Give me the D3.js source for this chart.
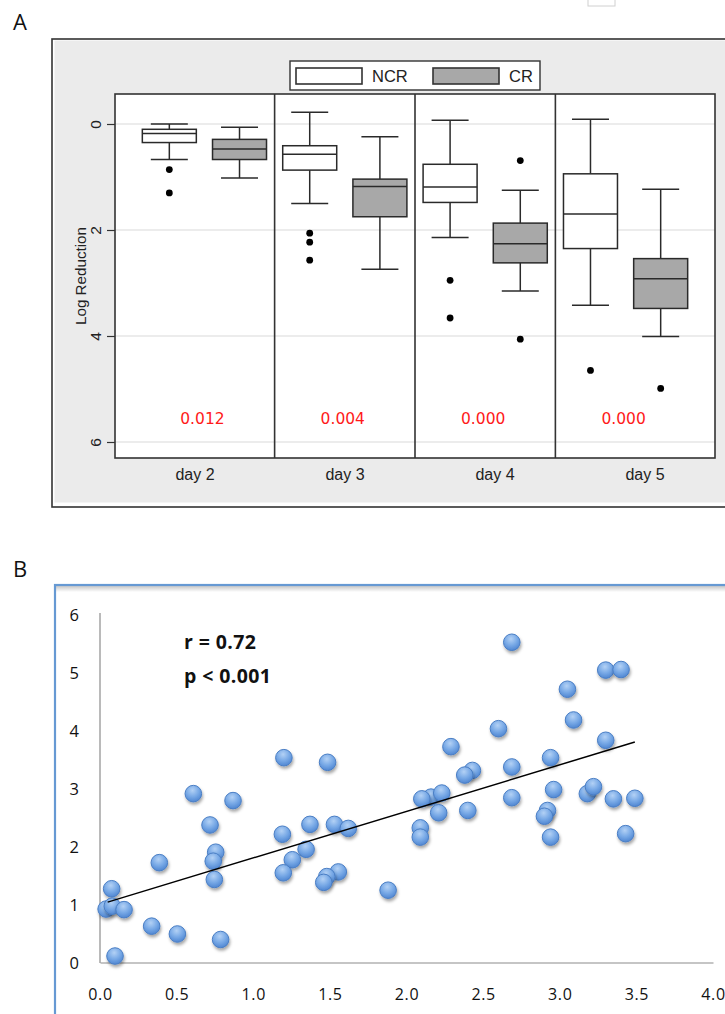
<!DOCTYPE html>
<html><head><meta charset="utf-8">
<script src="https://cdn.jsdelivr.net/npm/d3@7"></script>
<style>
html,body{margin:0;padding:0;background:#fff;}
svg{display:block;}
</style></head>
<body>
<svg id="chart" width="725" height="1014"></svg>
<script>
// ---------- Panel A data ----------
const days = ["day 2", "day 3", "day 4", "day 5"];
const groups = ["NCR", "CR"];
const ncrWhiskerTop    = [0.00, -0.22, -0.07, -0.09];
const ncrQ1            = [0.10, 0.41, 0.76, 0.94];
const ncrMedian        = [0.18, 0.57, 1.19, 1.70];
const ncrQ3            = [0.35, 0.87, 1.48, 2.35];
const ncrWhiskerBottom = [0.67, 1.50, 2.14, 3.42];
const ncrOutliers      = [[0.86, 1.30], [2.06, 2.23, 2.57], [2.95, 3.66], [4.65]];
const crWhiskerTop     = [0.06, 0.24, 1.25, 1.23];
const crQ1             = [0.29, 1.04, 1.87, 2.54];
const crMedian         = [0.47, 1.18, 2.26, 2.92];
const crQ3             = [0.67, 1.75, 2.62, 3.48];
const crWhiskerBottom  = [1.02, 2.74, 3.15, 4.01];
const crOutliers       = [[], [], [0.69, 4.06], [4.99]];
const pValues = ["0.012", "0.004", "0.000", "0.000"];
const yTicksA = [0, 2, 4, 6];

// ---------- Panel B data ----------
const corrX = [0.609, 0.868, 0.718, 1.19, 1.37, 1.53, 1.62, 1.345, 0.755, 0.739, 0.387, 1.255, 1.196, 1.555, 1.48, 1.46, 0.746, 0.076, 0.04, 0.08, 0.157, 0.337, 0.505, 0.787, 0.098, 1.88, 1.20, 1.485, 2.687, 3.30, 3.40, 3.05, 3.09, 2.60, 2.29, 3.30, 2.94, 2.43, 2.38, 2.687, 2.96, 2.687, 2.16, 2.23, 2.10, 2.21, 2.40, 2.09, 2.09, 3.18, 3.22, 3.35, 3.49, 2.92, 2.90, 2.94, 3.43];
const corrY = [2.92, 2.80, 2.38, 2.22, 2.39, 2.39, 2.32, 1.96, 1.91, 1.755, 1.73, 1.78, 1.555, 1.57, 1.49, 1.39, 1.44, 1.28, 0.93, 0.98, 0.92, 0.635, 0.50, 0.405, 0.12, 1.255, 3.54, 3.46, 5.53, 5.05, 5.06, 4.72, 4.19, 4.04, 3.73, 3.84, 3.54, 3.32, 3.24, 3.38, 2.99, 2.85, 2.86, 2.93, 2.83, 2.59, 2.63, 2.33, 2.17, 2.92, 3.04, 2.83, 2.84, 2.63, 2.53, 2.17, 2.23];
const trendX = [0.05, 3.49];
const trendY = [1.05, 3.81];
const xTicksB = [0, 0.5, 1, 1.5, 2, 2.5, 3, 3.5, 4];
const yTicksB = [0, 1, 2, 3, 4, 5, 6];
const statsText = ["r = 0.72", "p < 0.001"];

const svg = d3.select("#chart");
const defs = svg.append("defs");

// ================= PANEL A =================
const A = {left: 115, right: 715, top: 94, bottom: 458};
const sansA = "'Liberation Sans', Arial, Helvetica, sans-serif";

svg.append("text").attr("x", 13).attr("y", 30).text("A")
  .attr("font-family", "'Open Sans', sans-serif").attr("font-size", 22).attr("fill", "#111");

// small artifact box at top
svg.append("rect").attr("x", 588).attr("y", -2).attr("width", 27).attr("height", 8)
  .attr("fill", "#fff").attr("stroke", "#d0d0d0");

// outer frame
svg.append("rect").attr("x", 52).attr("y", 39).attr("width", 720).attr("height", 468)
  .attr("fill", "#fff").attr("stroke", "#333").attr("stroke-width", 1.6);
svg.append("rect").attr("x", 54.5).attr("y", 40.5).attr("width", 720).attr("height", 462)
  .attr("fill", "#ebebeb");

const yA = d3.scaleLinear().domain([0, 6]).range([124, 442]);
const keys = [];
days.forEach(d => groups.forEach(g => keys.push(d + "|" + g)));
const xA = d3.scalePoint().domain(keys).range([A.left, A.right]).padding(0.774);
const dayBand = d3.scaleBand().domain(days).range([A.left, A.right]);

// plot area
svg.append("rect").attr("x", A.left).attr("y", A.top).attr("width", A.right - A.left).attr("height", A.bottom - A.top)
  .attr("fill", "#fff");
// gridlines
svg.append("g").selectAll("line").data(yTicksA).join("line")
  .attr("x1", A.left).attr("x2", A.right).attr("y1", d => yA(d)).attr("y2", d => yA(d))
  .attr("stroke", "#e6e6e6").attr("stroke-width", 1.5);

// y axis ticks
const yAxisA = d3.axisLeft(yA).tickValues(yTicksA).tickSize(8).tickPadding(0).tickFormat(d3.format("d"));
const gy = svg.append("g").attr("transform", `translate(${A.left},0)`).call(yAxisA);
gy.select(".domain").remove();
gy.selectAll(".tick line").attr("stroke", "#333").attr("stroke-width", 1.2);
gy.selectAll(".tick text").remove();
gy.selectAll(".tick").append("text")
  .attr("transform", "translate(-19,0) rotate(-90)")
  .attr("text-anchor", "middle").attr("dy", "0.35em")
  .attr("font-family", sansA).attr("font-size", 15.5).attr("fill", "#222")
  .text(d => d);

svg.append("text").attr("transform", `translate(81,${(yA.range()[0] + yA.range()[1]) / 2 - 7}) rotate(-90)`)
  .attr("text-anchor", "middle").attr("dy", "0.35em")
  .attr("font-family", sansA).attr("font-size", 15.2).attr("fill", "#222")
  .text("Log Reduction");

// dividers between days
const dividers = days.slice(1).map((d, i) => (xA(days[i] + "|CR") + xA(d + "|NCR")) / 2);
svg.append("g").selectAll("line").data(dividers).join("line")
  .attr("x1", d => d).attr("x2", d => d).attr("y1", A.top).attr("y2", A.bottom)
  .attr("stroke", "#333").attr("stroke-width", 1.6);

// boxes
const boxW = 54, capW = 37;
const boxes = [];
days.forEach((d, i) => {
  boxes.push({key: d + "|NCR", g: "NCR", top: ncrWhiskerTop[i], q1: ncrQ1[i], med: ncrMedian[i], q3: ncrQ3[i], bot: ncrWhiskerBottom[i], out: ncrOutliers[i]});
  boxes.push({key: d + "|CR", g: "CR", top: crWhiskerTop[i], q1: crQ1[i], med: crMedian[i], q3: crQ3[i], bot: crWhiskerBottom[i], out: crOutliers[i]});
});
const fillOf = g => g === "NCR" ? "#ffffff" : "#a8a8a8";
const bg = svg.append("g").attr("stroke", "#2a2a2a").attr("stroke-width", 1.5);
boxes.forEach(b => {
  const cx = xA(b.key);
  const g = bg.append("g");
  g.append("line").attr("x1", cx).attr("x2", cx).attr("y1", yA(b.top)).attr("y2", yA(b.q1));
  g.append("line").attr("x1", cx).attr("x2", cx).attr("y1", yA(b.q3)).attr("y2", yA(b.bot));
  g.append("line").attr("x1", cx - capW / 2).attr("x2", cx + capW / 2).attr("y1", yA(b.top)).attr("y2", yA(b.top));
  g.append("line").attr("x1", cx - capW / 2).attr("x2", cx + capW / 2).attr("y1", yA(b.bot)).attr("y2", yA(b.bot));
  g.append("rect").attr("x", cx - boxW / 2).attr("width", boxW)
    .attr("y", yA(b.q1)).attr("height", yA(b.q3) - yA(b.q1)).attr("fill", fillOf(b.g));
  g.append("line").attr("x1", cx - boxW / 2).attr("x2", cx + boxW / 2).attr("y1", yA(b.med)).attr("y2", yA(b.med));
  g.selectAll("circle").data(b.out).join("circle")
    .attr("cx", cx).attr("cy", v => yA(v)).attr("r", 3.4).attr("fill", "#000").attr("stroke", "none");
});

// p-values
svg.append("g").selectAll("text").data(days).join("text")
  .attr("x", (d, i) => (xA(d + "|NCR") + xA(d + "|CR")) / 2 - 2)
  .attr("y", yA(5.55)).attr("dy", "0.35em").attr("text-anchor", "middle")
  .attr("font-family", "'DejaVu Sans', Verdana, sans-serif").attr("font-size", 15.5).attr("fill", "#ff1a1a")
  .text((d, i) => pValues[i]);

// plot border
svg.append("rect").attr("x", A.left).attr("y", A.top).attr("width", A.right - A.left).attr("height", A.bottom - A.top)
  .attr("fill", "none").attr("stroke", "#333").attr("stroke-width", 1.6);

// day labels
svg.append("g").selectAll("text").data(days).join("text")
  .attr("x", d => dayBand(d) + dayBand.bandwidth() / 2 + 5)
  .attr("y", 474).attr("dy", "0.35em").attr("text-anchor", "middle")
  .attr("font-family", sansA).attr("font-size", 16).attr("fill", "#222")
  .text(d => d);

// legend
const lg = svg.append("g");
lg.append("rect").attr("x", 290).attr("y", 61).attr("width", 250).attr("height", 29)
  .attr("fill", "#fff").attr("stroke", "#333").attr("stroke-width", 1.4);
const legendX = [296, 433];
groups.forEach((g, i) => {
  lg.append("rect").attr("x", legendX[i]).attr("y", 68).attr("width", 66).attr("height", 16)
    .attr("fill", fillOf(g)).attr("stroke", "#333").attr("stroke-width", 1.6);
  lg.append("text").attr("x", legendX[i] + 76).attr("y", 76.5).attr("dy", "0.35em")
    .attr("font-family", sansA).attr("font-size", 16.5).attr("fill", "#222").text(g);
});

// ================= PANEL B =================
const fontB = "'Open Sans', 'Noto Sans', sans-serif";
svg.append("text").attr("x", 13).attr("y", 577).text("B")
  .attr("font-family", fontB).attr("font-size", 22).attr("fill", "#111");

// shadow gradient under top frame line
const sh = defs.append("linearGradient").attr("id", "topShadow").attr("x1", 0).attr("y1", 0).attr("x2", 0).attr("y2", 1);
sh.append("stop").attr("offset", "0%").attr("stop-color", "#000").attr("stop-opacity", 0.22);
sh.append("stop").attr("offset", "100%").attr("stop-color", "#000").attr("stop-opacity", 0);
svg.append("rect").attr("x", 56).attr("y", 586).attr("width", 680).attr("height", 6).attr("fill", "url(#topShadow)");
svg.append("rect").attr("x", 55).attr("y", 585).attr("width", 700).attr("height", 460)
  .attr("fill", "none").attr("stroke", "#6699d3").attr("stroke-width", 2.2);

const xB = d3.scaleLinear().domain([0, 4]).range([100, 713]);
const yB = d3.scaleLinear().domain([0, 6]).range([963, 615]);

// axes
const gxB = svg.append("g").attr("transform", `translate(0,${yB(0) - 0.5})`)
  .call(d3.axisBottom(xB).tickValues(xTicksB).tickSize(0).tickPadding(26).tickFormat(d3.format(".1f")));
gxB.select(".domain").attr("stroke", "#8c8c8c").attr("stroke-width", 1.2);
gxB.selectAll(".tick text").attr("font-family", fontB).attr("font-size", 16).attr("fill", "#111")
  .attr("letter-spacing", "0.6px");

const gyB = svg.append("g").attr("transform", `translate(${xB(0)},0)`)
  .call(d3.axisLeft(yB).tickValues(yTicksB).tickSize(0).tickPadding(21).tickFormat(d3.format("d")));
gyB.select(".domain").attr("stroke", "#8c8c8c").attr("stroke-width", 1.2)
  .attr("d", `M0,${yB(6) - 2}V${yB(0)}`);
gyB.selectAll(".tick text").attr("font-family", fontB).attr("font-size", 16.5).attr("fill", "#111");

// stats text
svg.append("g").selectAll("text").data(statsText).join("text")
  .attr("x", 184).attr("y", (d, i) => 642 + i * 34).attr("dy", "0.35em")
  .attr("font-family", fontB).attr("font-weight", "bold").attr("font-size", 19.5).attr("fill", "#111")
  .attr("letter-spacing", "0.4px")
  .text(d => d);

// point styles
const rg = defs.append("radialGradient").attr("id", "ball").attr("cx", "45%").attr("cy", "30%").attr("r", "70%");
rg.append("stop").attr("offset", "0%").attr("stop-color", "#b3d1f5");
rg.append("stop").attr("offset", "55%").attr("stop-color", "#78a9e6");
rg.append("stop").attr("offset", "100%").attr("stop-color", "#4f86d2");
const f = defs.append("filter").attr("id", "dshadow").attr("x", "-50%").attr("y", "-50%").attr("width", "200%").attr("height", "200%");
f.append("feDropShadow").attr("dx", 1).attr("dy", 2.5).attr("stdDeviation", 1.6)
  .attr("flood-color", "#000").attr("flood-opacity", 0.35);

const pts = corrX.map((x, i) => ({x, y: corrY[i]}));
svg.append("g").selectAll("circle").data(pts).join("circle")
  .attr("cx", d => xB(d.x)).attr("cy", d => yB(d.y)).attr("r", 8.3)
  .attr("fill", "url(#ball)").attr("stroke", "#4a7ec4").attr("stroke-width", 1)
  .attr("filter", "url(#dshadow)");

// trend line
svg.append("line")
  .attr("x1", xB(trendX[0])).attr("y1", yB(trendY[0]))
  .attr("x2", xB(trendX[1])).attr("y2", yB(trendY[1]))
  .attr("stroke", "#000").attr("stroke-width", 1.5);
</script>
</body></html>
